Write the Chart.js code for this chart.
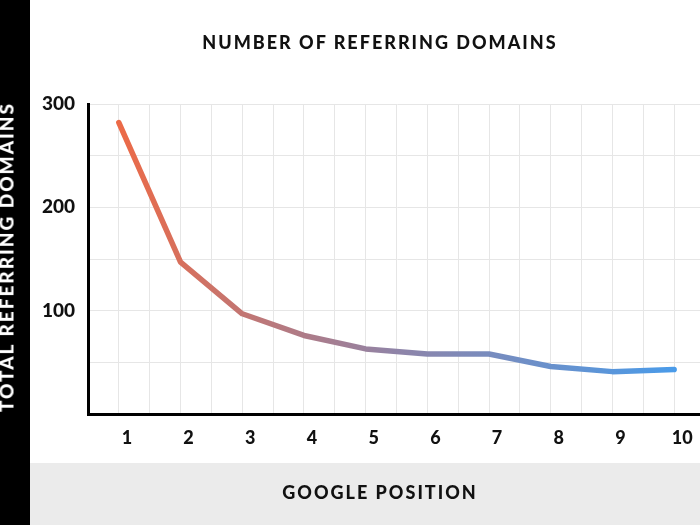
<!DOCTYPE html>
<html>
<head>
<meta charset="utf-8">
<script src="https://cdn.jsdelivr.net/npm/chart.js@4.4.0/dist/chart.umd.min.js"></script>
<style>
    body { margin: 0; background: #fff; }
    #page { position: relative; width: 700px; height: 525px; overflow: hidden; background: #fff; font-family: Lato, "Open Sans", sans-serif; }
    #sidebar { position: absolute; left: 0; top: 0; width: 30px; height: 525px; background: #000; }
    #footer { position: absolute; left: 30px; top: 463px; width: 670px; height: 62px; background: #ebebeb; }
    .label { position: absolute; font-weight: 900; font-size: 18px; letter-spacing: 2px; color: #111; white-space: nowrap; }
    #title { left: 30px; width: 700px; top: 31px; text-align: center; }
    #xTitle { left: 30px; width: 700px; top: 481px; text-align: center; }
    #yTitle { left: 6px; top: 257px; color: #fff; font-size: 19px; transform: translate(-50%, -50%) rotate(-90deg); }
    #chartWrap { position: absolute; left: 0; top: 0; width: 718px; height: 525px; }
</style>
</head>
<body>
<div id="page">
    <div id="sidebar"></div>
    <div id="footer"></div>
    <div id="chartWrap"><canvas id="chart" width="718" height="525"></canvas></div>
    <div class="label" id="title">NUMBER OF REFERRING DOMAINS</div>
    <div class="label" id="xTitle">GOOGLE POSITION</div>
    <div class="label" id="yTitle">TOTAL REFERRING DOMAINS</div>
</div>
<script>
// Data
const positions = [1, 2, 3, 4, 5, 6, 7, 8, 9, 10];
const domains = [282, 147, 97, 76, 63, 58, 58, 46, 41, 43];
const yTickLabels = [100, 200, 300];

const startColor = '#ec6a47';
const endColor = '#4a9be9';

// Horizontal gradient along the line, from first to last point
function lineGradient(context) {
    const chart = context.chart;
    if (!chart.chartArea) return startColor;
    const x = chart.scales.x;
    const g = chart.ctx.createLinearGradient(x.getPixelForValue(positions[0]), 0,
        x.getPixelForValue(positions[positions.length - 1]), 0);
    g.addColorStop(0, startColor);
    g.addColorStop(0.5, '#8f84a8');
    g.addColorStop(1, endColor);
    return g;
}

const ctx = document.getElementById('chart').getContext('2d');
new Chart(ctx, {
    type: 'line',
    data: {
        datasets: [{
            data: positions.map((p, i) => ({ x: p, y: domains[i] })),
            borderColor: lineGradient,
            borderWidth: 5.5,
            borderCapStyle: 'round',
            borderJoinStyle: 'round',
            pointRadius: 0,
            tension: 0,
            fill: false
        }]
    },
    options: {
        responsive: false,
        animation: false,
        layout: { padding: { left: 30, right: 8, top: 104, bottom: 0 } },
        plugins: {
            legend: { display: false },
            tooltip: { enabled: false }
        },
        scales: {
            x: {
                type: 'linear',
                min: 0.5,
                max: 10.5,
                afterFit: scale => { scale.height = 111; },
                afterBuildTicks: scale => {
                    const t = [];
                    for (let v = 0.5; v <= 10.5; v += 0.5) t.push({ value: v });
                    scale.ticks = t;
                },
                grid: { color: '#e6e6e6', lineWidth: 1, drawTicks: false },
                border: { color: '#000', width: 3 },
                ticks: {
                    autoSkip: false,
                    maxRotation: 0,
                    padding: 13,
                    labelOffset: 8,
                    color: '#111',
                    font: { family: 'Lato', weight: '900', size: 18 },
                    callback: v => positions.includes(v) ? String(v) : ''
                }
            },
            y: {
                min: 0,
                max: 300,
                afterFit: scale => { scale.width = 58; },
                grid: { color: '#e6e6e6', lineWidth: 1, drawTicks: false },
                border: { color: '#000', width: 3 },
                ticks: {
                    stepSize: 50,
                    padding: 13,
                    color: '#111',
                    font: { family: 'Lato', weight: '900', size: 19 },
                    callback: v => yTickLabels.includes(v) ? String(v) : ''
                }
            }
        }
    }
});
</script>
</body>
</html>
